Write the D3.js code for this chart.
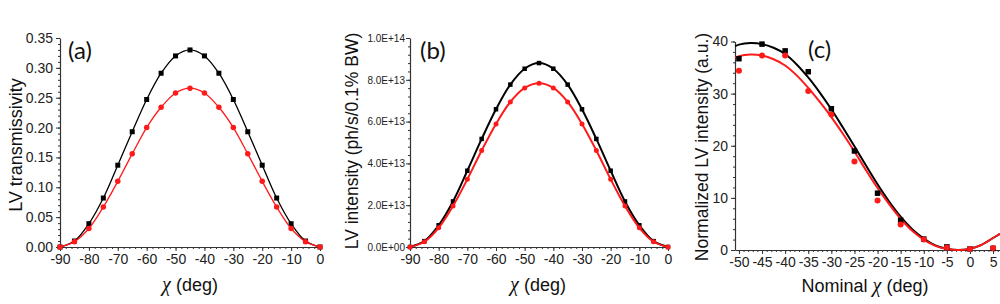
<!DOCTYPE html>
<html>
<head>
<meta charset="utf-8">
<script src="https://cdn.jsdelivr.net/npm/d3@7"></script>
<style>
  body { margin: 0; background: #fff; }
  svg { display: block; }
  .tick text { fill: #222; font-family: 'Liberation Sans', Arial, sans-serif; }
</style>
</head>
<body>
<div id="chart"></div>
<script>
// chi angles for panels (a) and (b)
var chiAB = [-90, -85, -80, -75, -70, -65, -60, -55, -50, -45, -40, -35, -30, -25, -20, -15, -10, -5, 0];

// (a) LV transmissivity
var transBlack = [0, 0.010, 0.039, 0.082, 0.137, 0.193, 0.247, 0.291, 0.320, 0.330, 0.320, 0.291, 0.247, 0.193, 0.137, 0.082, 0.039, 0.010, 0];
var transRed   = [0, 0.009, 0.031, 0.067, 0.110, 0.156, 0.200, 0.234, 0.258, 0.266, 0.258, 0.234, 0.200, 0.156, 0.110, 0.067, 0.031, 0.009, 0];

// (b) LV intensity, ph/s/0.1% BW
var intBlack = [0, 0.28e13, 1.04e13, 2.18e13, 3.65e13, 5.17e13, 6.59e13, 7.77e13, 8.53e13, 8.80e13, 8.53e13, 7.77e13, 6.59e13, 5.17e13, 3.65e13, 2.18e13, 1.04e13, 0.28e13, 0];
var intRed   = [0, 0.25e13, 0.92e13, 1.96e13, 3.24e13, 4.62e13, 5.89e13, 6.94e13, 7.61e13, 7.83e13, 7.61e13, 6.94e13, 5.89e13, 4.62e13, 3.24e13, 1.96e13, 0.92e13, 0.25e13, 0];

// (c) measured normalized intensity
var chiC = [-50, -45, -40, -35, -30, -25, -20, -15, -10, -5, 0, 5];
var normBlack = [36.7, 39.5, 38.2, 34.2, 27.1, 19.0, 10.9, 5.7, 2.1, 0.6, 0.2, 0.3];
var normRed   = [34.4, 37.3, 37.3, 30.5, 26.0, 17.0, 9.5, 4.9, 2.0, 0.5, 0.2, 0.4];

// (c) fitted curves
var fitChi   = [-50.8, -50, -47.5, -45, -42.5, -40, -37.5, -35, -32.5, -30, -27.5, -25, -22.5, -20, -17.5, -15, -12.5, -10, -7.5, -5, -2.5, 0, 2.5, 5, 6.5];
var fitBlack = [39.1, 39.4, 39.7, 39.5, 38.8, 37.6, 35.6, 33.1, 30.2, 27.0, 23.5, 19.9, 16.2, 12.6, 9.3, 6.4, 4.0, 2.2, 0.9, 0.25, 0.0, 0.25, 1.0, 2.3, 3.1];
var fitRed   = [36.9, 37.2, 37.5, 37.3, 36.6, 35.4, 33.5, 31.1, 28.4, 25.5, 22.3, 18.9, 15.3, 11.9, 8.8, 6.0, 3.7, 2.0, 0.8, 0.2, 0.0, 0.25, 1.0, 2.3, 3.1];

// tick values
var xTicksAB = [-90, -80, -70, -60, -50, -40, -30, -20, -10, 0];
var yTicksA = [0, 0.05, 0.10, 0.15, 0.20, 0.25, 0.30, 0.35];
var yTicksB = [0, 2e13, 4e13, 6e13, 8e13, 1e14];
var xTicksC = [-50, -45, -40, -35, -30, -25, -20, -15, -10, -5, 0, 5];
var yTicksC = [0, 10, 20, 30, 40];

var width = 1000, height = 304;
var svg = d3.select("#chart").append("svg")
  .attr("width", width)
  .attr("height", height)
  .style("font-family", "'Liberation Sans', Arial, sans-serif");

function sciFmt(v) {
  if (v === 0) return "0.0E+00";
  var e = Math.floor(Math.log10(v));
  return (v / Math.pow(10, e)).toFixed(1) + "E+" + e;
}

function drawAxes(x, y, o) {
  var xr = x.range(), yr = y.range();
  // minor ticks
  svg.append("g")
    .attr("transform", `translate(0,${yr[0]})`)
    .call(d3.axisBottom(x).tickValues(o.xMinor).tickSize(2).tickFormat(""))
    .call(g => g.select(".domain").remove());
  svg.append("g")
    .attr("transform", `translate(${xr[0]},0)`)
    .call(d3.axisLeft(y).tickValues(o.yMinor).tickSize(2).tickFormat(""))
    .call(g => g.select(".domain").remove());

  var gx = svg.append("g")
    .attr("transform", `translate(0,${yr[0]})`)
    .call(d3.axisBottom(x).tickValues(o.xTicks).tickSize(4).tickSizeOuter(0).tickPadding(3)
      .tickFormat(d => String(d)));
  gx.selectAll("text").style("font-size", o.xFont + "px");

  var gy = svg.append("g")
    .attr("transform", `translate(${xr[0]},0)`)
    .call(d3.axisLeft(y).tickValues(o.yTicks).tickSize(4).tickSizeOuter(0).tickPadding(o.yPad)
      .tickFormat(o.yFmt));
  gy.selectAll("text").style("font-size", o.yFont + "px");

  [gx, gy].forEach(g => {
    g.select(".domain").attr("stroke", "#333").attr("stroke-width", 1.2);
  });
  svg.selectAll("g .tick line").attr("stroke", "#333");
}

function drawSeries(x, y, xs, ys, color, shape, size, lw, withLine) {
  var pts = xs.map((d, i) => [d, ys[i]]);
  if (withLine) {
    svg.append("path")
      .datum(pts)
      .attr("fill", "none")
      .attr("stroke", color)
      .attr("stroke-width", lw)
      .attr("d", d3.line().x(d => x(d[0])).y(d => y(d[1])).curve(d3.curveCatmullRom.alpha(0.5)));
  }
  if (shape === "square") {
    svg.append("g").selectAll("rect").data(pts).enter().append("rect")
      .attr("x", d => x(d[0]) - size / 2)
      .attr("y", d => y(d[1]) - size / 2)
      .attr("width", size).attr("height", size)
      .attr("fill", color);
  } else if (shape === "circle") {
    svg.append("g").selectAll("circle").data(pts).enter().append("circle")
      .attr("cx", d => x(d[0]))
      .attr("cy", d => y(d[1]))
      .attr("r", size / 2)
      .attr("fill", color);
  }
}

function fitLine(x, y, xs, ys, color, lw) {
  var pts = xs.map((d, i) => [d, ys[i]]);
  svg.append("path")
    .datum(pts)
    .attr("fill", "none")
    .attr("stroke", color)
    .attr("stroke-width", lw)
    .attr("d", d3.line().x(d => x(d[0])).y(d => y(d[1])).curve(d3.curveCatmullRom.alpha(0.5)));
}

function yTitle(cx, cy, txt, size) {
  svg.append("text")
    .attr("transform", `translate(${cx},${cy}) rotate(-90)`)
    .attr("text-anchor", "middle")
    .attr("dominant-baseline", "central")
    .style("font-size", size + "px")
    .attr("fill", "#111")
    .text(txt);
}

function xTitle(cx, cy, pre, size) {
  var t = svg.append("text")
    .attr("x", cx).attr("y", cy)
    .attr("text-anchor", "middle")
    .style("font-size", size + "px")
    .attr("fill", "#111");
  if (pre) t.append("tspan").text(pre);
  t.append("tspan")
    .style("font-family", "'Liberation Serif', 'Times New Roman', serif")
    .style("font-style", "italic")
    .style("font-size", (size + 2) + "px")
    .text("\u03C7");
  t.append("tspan").text(" (deg)");
}

function panelLabel(px, py, txt) {
  svg.append("text")
    .attr("x", px).attr("y", py)
    .style("font-family", "Lato, 'Open Sans', sans-serif")
    .style("font-size", "24px")
    .attr("fill", "#111")
    .text(txt);
}

function range(a, b, s) { return d3.range(a, b + s / 2, s); }

// ---------- panel (a)
var xA = d3.scaleLinear().domain([-90, 0]).range([60, 320]);
var yA = d3.scaleLinear().domain([0, 0.35]).range([247, 38]);
drawAxes(xA, yA, {
  xTicks: xTicksAB, xMinor: range(-90, 0, 2), yTicks: yTicksA, yMinor: range(0, 0.35, 0.01),
  yFmt: d3.format(".2f"), xFont: 14, yFont: 14, yPad: 3
});
drawSeries(xA, yA, chiAB, transBlack, "#000", "square", 5, 1.3, true);
drawSeries(xA, yA, chiAB, transRed, "#ff1a1a", "circle", 5.5, 1.3, true);
yTitle(16, 145, "LV transmissivity", 18);
xTitle(190, 291, "", 18);
panelLabel(68, 59, "(a)");

// ---------- panel (b)
var xB = d3.scaleLinear().domain([-90, 0]).range([410, 668]);
var yB = d3.scaleLinear().domain([0, 1e14]).range([247, 38]);
drawAxes(xB, yB, {
  xTicks: xTicksAB, xMinor: range(-90, 0, 2), yTicks: yTicksB, yMinor: range(0, 1e14, 4e12),
  yFmt: sciFmt, xFont: 14, yFont: 10, yPad: 1
});
drawSeries(xB, yB, chiAB, intBlack, "#000", "square", 4.5, 2, true);
drawSeries(xB, yB, chiAB, intRed, "#ff1a1a", "circle", 5, 2, true);
yTitle(352, 141, "LV intensity (ph/s/0.1% BW)", 17.5);
xTitle(538, 291, "", 18);
panelLabel(420, 59, "(b)");

// ---------- panel (c)
var xC = d3.scaleLinear().domain([-50.85, 6.5]).range([735, 1000]);
var yC = d3.scaleLinear().domain([0, 40]).range([250, 41.5]);
drawAxes(xC, yC, {
  xTicks: xTicksC, xMinor: range(-50, 6, 1), yTicks: yTicksC, yMinor: range(0, 40, 2),
  yFmt: d => String(d), xFont: 14, yFont: 14, yPad: 3
});
fitLine(xC, yC, fitChi, fitBlack, "#000", 2);
fitLine(xC, yC, fitChi, fitRed, "#ff1a1a", 2);
drawSeries(xC, yC, chiC, normBlack, "#000", "square", 5.5, 0, false);
drawSeries(xC, yC, chiC, normRed, "#ff1a1a", "circle", 6, 0, false);
yTitle(702, 147, "Normalized LV intensity (a.u.)", 17.5);
xTitle(865, 292, "Nominal ", 18);
panelLabel(808, 58, "(c)");
</script>
</body>
</html>
